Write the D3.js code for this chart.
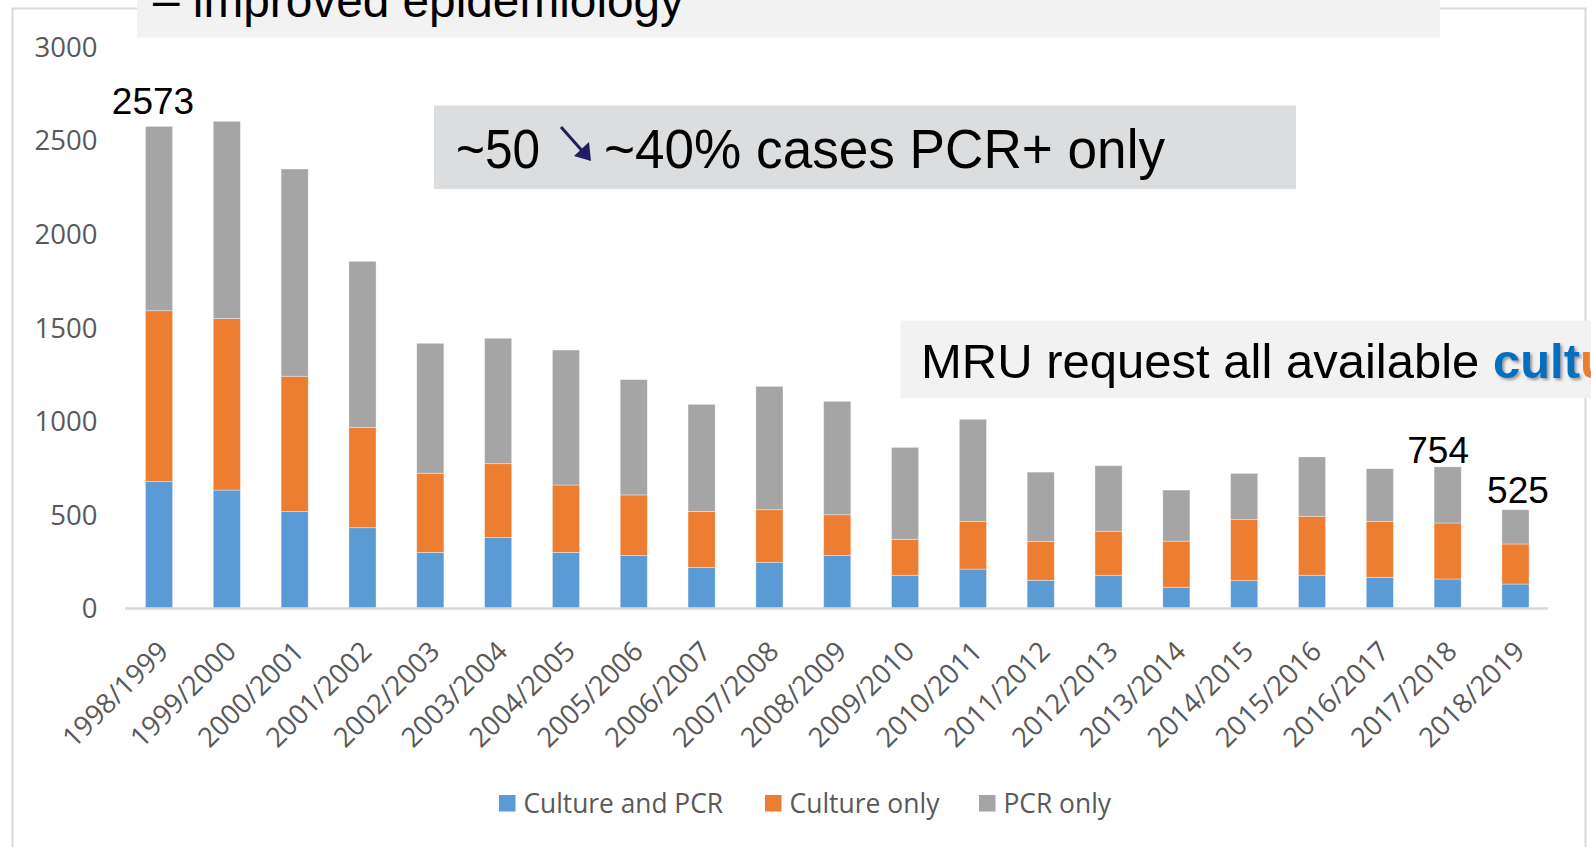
<!DOCTYPE html>
<html>
<head>
<meta charset="utf-8">
<script src="https://cdn.jsdelivr.net/npm/d3@7"></script>
<style>
  html, body { margin: 0; padding: 0; background: #fff; overflow: hidden; }
  svg { display: block; }
</style>
</head>
<body>
<svg id="chart" width="1591" height="847"></svg>
<script>
// ---- Data ----
const categories = ["1998/1999","1999/2000","2000/2001","2001/2002","2002/2003","2003/2004","2004/2005","2005/2006","2006/2007","2007/2008","2008/2009","2009/2010","2010/2011","2011/2012","2012/2013","2013/2014","2014/2015","2015/2016","2016/2017","2017/2018","2018/2019"];
const seriesNames = ["Culture and PCR", "Culture only", "PCR only"];
const cultureAndPCR = [675, 630, 515, 429, 297, 376, 297, 280, 217, 244, 280, 175, 208, 148, 175, 111, 146, 175, 164, 155, 128];
const cultureOnly   = [913, 916, 723, 536, 423, 395, 360, 324, 299, 281, 218, 192, 255, 208, 235, 246, 326, 315, 299, 299, 214];
const pcrOnly       = [985, 1054, 1107, 887, 694, 670, 721, 616, 572, 659, 606, 491, 545, 370, 350, 273, 247, 317, 281, 300, 183];
const yTicks = [0, 500, 1000, 1500, 2000, 2500, 3000];
const labelledCategories = ["1998/1999", "2017/2018", "2018/2019"];
const colors = ["#5b9bd5", "#ed7d31", "#a5a5a5"];

// ---- Setup ----
const svg = d3.select("#chart");
const defs = svg.append("defs");
const f = defs.append("filter").attr("id", "shadow").attr("x", "-10%").attr("y", "-10%").attr("width", "130%").attr("height", "140%");
f.append("feDropShadow").attr("dx", 2).attr("dy", 2).attr("stdDeviation", 1.5).attr("flood-color", "#7f7f7f").attr("flood-opacity", 0.8);

const table = categories.map((c, i) => ({
  cat: c,
  "Culture and PCR": cultureAndPCR[i],
  "Culture only": cultureOnly[i],
  "PCR only": pcrOnly[i]
}));
const stacked = d3.stack().keys(seriesNames)(table);

const x = d3.scaleBand().domain(categories).range([125.1, 1549.4]).paddingInner(0.6).paddingOuter(0.3);
const y = d3.scaleLinear().domain([0, 3000]).range([608, 46.4]);

// outer chart frame
svg.append("rect").attr("x", 12.5).attr("y", 8.5).attr("width", 1573).attr("height", 900)
  .attr("fill", "none").attr("stroke", "#d9d9d9").attr("stroke-width", 2);

// bars
const g = svg.append("g");
g.selectAll("g.series").data(stacked).join("g")
  .attr("fill", (d, i) => colors[i])
  .selectAll("rect").data(d => d).join("rect")
  .attr("x", d => x(d.data.cat))
  .attr("width", x.bandwidth())
  .attr("y", d => y(d[1]))
  .attr("height", d => y(d[0]) - y(d[1]))
  .attr("stroke", "#ffffff").attr("stroke-opacity", 0.45).attr("stroke-width", 0.8);

// x axis baseline
svg.append("line").attr("x1", 125).attr("x2", 1548).attr("y1", y(0) + 0.5).attr("y2", y(0) + 0.5)
  .attr("stroke", "#d9d9d9").attr("stroke-width", 2.6);

// y tick labels
const yAxis = d3.axisLeft(y).tickValues(yTicks).tickSize(0).tickPadding(0).tickFormat(d3.format("d"));
const ya = svg.append("g").attr("transform", "translate(97.5,0)").call(yAxis);
ya.select(".domain").remove();
ya.selectAll("text").attr("font-family", "'Open Sans', sans-serif").attr("font-size", 27.5)
  .attr("fill", "#595959").attr("dy", "0.36em");

// x tick labels (rotated)
const xa = svg.append("g").attr("transform", `translate(0,${y(0)})`)
  .call(d3.axisBottom(x).tickSize(0).tickPadding(0));
xa.select(".domain").remove();
xa.selectAll("text")
  .attr("font-family", "'Open Sans', sans-serif").attr("font-size", 27.5).attr("fill", "#595959")
  .attr("text-anchor", "end").attr("y", 0).attr("dy", 0)
  .attr("transform", "translate(11,45) rotate(-45)");

// data labels
const labelOffsets = { "1998/1999": [-6, 12], "2017/2018": [-9.5, 3.8], "2018/2019": [2.5, 6.7] };
const totals = categories.map((c, i) => cultureAndPCR[i] + cultureOnly[i] + pcrOnly[i]);
const totalLabelValues = { "1998/1999": 2573, "2017/2018": 754, "2018/2019": 525 };
svg.append("g").selectAll("text").data(labelledCategories).join("text")
  .attr("x", c => x(c) + x.bandwidth() / 2 + labelOffsets[c][0])
  .attr("y", c => y(totals[categories.indexOf(c)]) - labelOffsets[c][1])
  .attr("text-anchor", "middle")
  .attr("font-family", "'Liberation Sans', Arial, sans-serif").attr("font-size", 37).attr("fill", "#000")
  .text(c => totalLabelValues[c]);

// legend
const legendX = [499, 765, 979];
const legendLen = [199.5, 150, 107.5];
const lg = svg.append("g");
seriesNames.forEach((s, i) => {
  lg.append("rect").attr("x", legendX[i]).attr("y", 795).attr("width", 16.5).attr("height", 16.5).attr("fill", colors[i]);
  lg.append("text").attr("x", legendX[i] + 24.5).attr("y", 803.5).attr("dy", "0.36em")
    .attr("font-family", "'Open Sans', sans-serif").attr("font-size", 27.5).attr("fill", "#595959")
    .attr("textLength", legendLen[i]).attr("lengthAdjust", "spacingAndGlyphs")
    .text(s);
});

// ---- Annotation boxes ----
// title box (top)
svg.append("rect").attr("x", 137).attr("y", -5).attr("width", 1303).attr("height", 42.5).attr("fill", "#f2f2f2");
svg.append("text").attr("x", 153).attr("y", 17)
  .attr("font-family", "'Liberation Sans', Arial, sans-serif").attr("font-size", 48).attr("fill", "#000")
  .attr("textLength", 531).attr("lengthAdjust", "spacingAndGlyphs")
  .text("– improved epidemiology");

// ~50 -> ~40% box
svg.append("rect").attr("x", 434).attr("y", 105.5).attr("width", 862).attr("height", 83.5).attr("fill", "#dcdddf");
const ann = svg.append("g").attr("font-family", "'Liberation Sans', Arial, sans-serif").attr("font-size", 55).attr("fill", "#000");
ann.append("text").attr("x", 456).attr("y", 168.3).attr("textLength", 84).attr("lengthAdjust", "spacingAndGlyphs").text("~50");
ann.append("text").attr("x", 604).attr("y", 168.3).attr("textLength", 561).attr("lengthAdjust", "spacingAndGlyphs").text("~40% cases PCR+ only");
// down-right arrow
svg.append("path").attr("d", "M561,127 L585,154").attr("stroke", "#1f1f5f").attr("stroke-width", 3).attr("fill", "none");
svg.append("path").attr("d", "M591,161 L574,156 L589,142 Z").attr("fill", "#1f1f5f");

// MRU box
svg.append("rect").attr("x", 900.5).attr("y", 320.7).attr("width", 700).attr("height", 77.6).attr("fill", "#f2f2f2");
const mru = svg.append("text").attr("x", 921).attr("y", 378.3)
  .attr("font-family", "'Liberation Sans', Arial, sans-serif").attr("font-size", 49).attr("fill", "#000");
mru.append("tspan").text("MRU request all available ");
mru.append("tspan").attr("font-weight", "bold").attr("fill", "#0070c0").attr("filter", "url(#shadow)").text("cult");
mru.append("tspan").attr("font-weight", "bold").attr("fill", "#ed7d31").text("ures");
</script>
</body>
</html>
